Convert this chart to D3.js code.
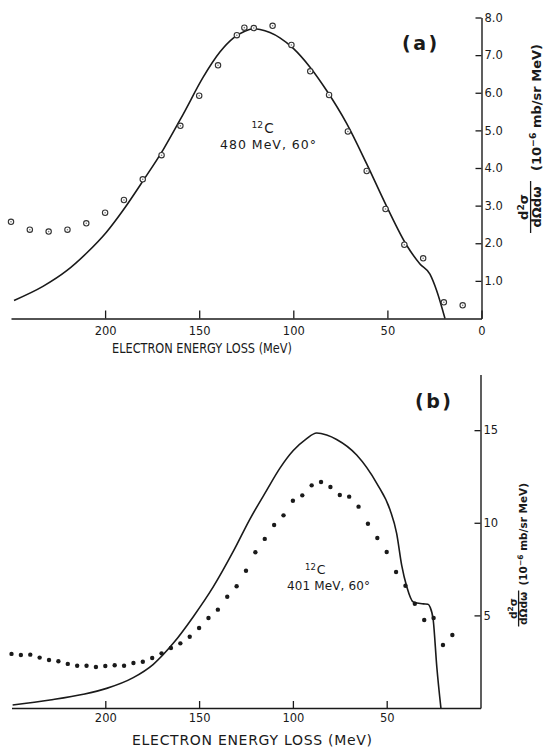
<!DOCTYPE html>
<html>
<head>
<meta charset="utf-8">
<script src="https://cdn.jsdelivr.net/npm/d3@7"></script>
<style>
  html, body { margin: 0; padding: 0; background: #fff; }
  svg { display: block; }
  text { font-family: "DejaVu Sans", "Liberation Sans", sans-serif; fill: #1a1a1a; }
</style>
</head>
<body>
<script>
// ---------- DATA ----------
// Panel (a): 12C, 480 MeV, 60 deg — open circles (experiment)
const aEnergy = [250, 240, 230, 220, 210, 200, 190, 180, 170, 160, 150, 140, 130, 126, 121, 111, 101, 91, 81, 71, 61, 51, 41, 31, 20, 10];
const aValue  = [2.57, 2.36, 2.31, 2.36, 2.53, 2.81, 3.15, 3.70, 4.34, 5.12, 5.92, 6.73, 7.53, 7.73, 7.72, 7.78, 7.27, 6.57, 5.94, 4.97, 3.92, 2.91, 1.96, 1.60, 0.43, 0.35];
// Panel (a): theory curve
const aCurveE = [248.4, 232.8, 220.4, 209.8, 199.2, 189.4, 179.7, 169.1, 158.4, 147.8, 139.0, 131.9, 125.5, 121.3, 117.7, 107.1, 100.0, 91.1, 82.3, 71.6, 61.0, 50.4, 39.7, 32.7, 27.4, 23.8, 19.4];
const aCurveV = [0.48, 0.86, 1.27, 1.74, 2.30, 2.95, 3.67, 4.49, 5.44, 6.42, 7.08, 7.45, 7.64, 7.70, 7.68, 7.46, 7.18, 6.68, 6.06, 5.18, 4.11, 2.98, 1.94, 1.45, 1.18, 0.74, 0.0];

// Panel (b): 12C, 401 MeV, 60 deg — filled dots (experiment)
const bEnergy = [250, 245, 240, 235, 230, 225, 220, 215, 210, 205, 200, 195, 190, 185, 180, 175, 170, 165, 160, 155, 150, 145, 140, 135, 130, 125, 120, 115, 110, 105, 100, 95, 90, 85, 80, 75, 70, 65, 60, 55, 50, 45, 40, 35, 30, 25, 20, 15];
const bValue  = [2.92, 2.86, 2.88, 2.72, 2.59, 2.52, 2.38, 2.28, 2.28, 2.21, 2.27, 2.31, 2.28, 2.43, 2.50, 2.70, 2.95, 3.24, 3.49, 3.85, 4.32, 4.86, 5.31, 6.01, 6.57, 7.41, 8.41, 9.13, 9.88, 10.4, 11.19, 11.48, 12.02, 12.2, 11.93, 11.5, 11.41, 10.87, 9.95, 9.18, 8.42, 7.34, 6.6, 5.63, 4.75, 4.86, 3.4, 3.94];
// Panel (b): theory curve
const bCurveE = [249.4, 229.5, 211.7, 199.3, 185.1, 174.4, 163.8, 153.1, 142.4, 131.8, 122.9, 114.0, 106.9, 99.8, 93.0, 87.3, 82.0, 76.7, 66.0, 55.3, 48.2, 44.7, 42.0, 39.3, 35.8, 30.5, 28.0, 26.9, 25.2, 23.3, 21.1];
const bCurveV = [0.16, 0.43, 0.74, 1.06, 1.64, 2.36, 3.49, 4.93, 6.55, 8.45, 10.2, 11.75, 12.95, 13.9, 14.52, 14.85, 14.74, 14.5, 13.66, 12.13, 10.69, 9.43, 7.70, 6.55, 5.72, 5.62, 5.60, 5.45, 4.75, 2.23, 0.0];

// Tick labels
const aXTicks = [200, 150, 100, 50, 0];
const aYTicks = [1, 2, 3, 4, 5, 6, 7, 8];
const bXTicks = [200, 150, 100, 50];
const bYTicks = [5, 10, 15];

// Text
const xTitleA = "ELECTRON ENERGY LOSS (MeV)";
const xTitleB = "ELECTRON ENERGY LOSS (MeV)";
const labelA = "(a)", labelB = "(b)";
const annotA = "480 MeV, 60°", annotB = "401 MeV, 60°";

// ---------- DRAW ----------
const svg = d3.select("body").append("svg").attr("width", 544).attr("height", 750);
const ink = "#1a1a1a";

function panel(opt) {
  const g = svg.append("g");
  const x = d3.scaleLinear().domain([250, 0]).range(opt.xRange);
  const y = d3.scaleLinear().domain(opt.yDomain).range(opt.yRange);

  // x axis (ticks point up, labels below)
  const xa = g.append("g").attr("transform", `translate(0,${opt.yRange[0]})`)
    .call(d3.axisBottom(x).tickValues(opt.xTicks).tickSizeInner(-opt.xTickLen).tickSizeOuter(0)
      .tickPadding(opt.xPad).tickFormat(d3.format("d")));
  xa.select(".domain").attr("stroke", ink).attr("stroke-width", 1.4);
  xa.selectAll(".tick line").attr("stroke", ink).attr("stroke-width", 1.3);
  xa.selectAll(".tick text").attr("font-size", opt.tickFont).attr("fill", ink).attr("font-family", null);

  // y axis on the right (ticks point left, labels right)
  const ya = g.append("g").attr("transform", `translate(${x(0)},0)`)
    .call(d3.axisRight(y).tickValues(opt.yTicks).tickSizeInner(-6).tickSizeOuter(0)
      .tickPadding(opt.yPad).tickFormat(d3.format(opt.yFmt)));
  ya.select(".domain").attr("stroke", ink).attr("stroke-width", 1.4);
  ya.selectAll(".tick line").attr("stroke", ink).attr("stroke-width", 1.3);
  ya.selectAll(".tick text").attr("font-size", opt.tickFont).attr("fill", ink).attr("font-family", null);

  // theory curve
  const line = d3.line().x(d => x(d[0])).y(d => y(d[1])).curve(d3.curveMonotoneX);
  g.append("path").datum(d3.zip(opt.cE, opt.cV))
    .attr("d", line).attr("fill", "none").attr("stroke", ink).attr("stroke-width", 1.6);

  // data points
  const pts = d3.zip(opt.pE, opt.pV);
  if (opt.open) {
    g.append("g").selectAll("circle").data(pts).join("circle")
      .attr("cx", d => x(d[0])).attr("cy", d => y(d[1])).attr("r", 2.7)
      .attr("fill", "#fff").attr("stroke", "#333").attr("stroke-width", 1.1);
    g.append("g").selectAll("circle").data(pts).join("circle")
      .attr("cx", d => x(d[0])).attr("cy", d => y(d[1])).attr("r", 0.8)
      .attr("fill", "#777");
  } else {
    g.append("g").selectAll("circle").data(pts).join("circle")
      .attr("cx", d => x(d[0])).attr("cy", d => y(d[1])).attr("r", 2.2)
      .attr("fill", ink);
  }
  return {g, x, y};
}

const A = panel({
  xRange: [11, 481.5], yDomain: [0, 8], yRange: [318.5, 17.5],
  xTicks: aXTicks, yTicks: aYTicks, xTickLen: 8, xPad: 8, yPad: 3, yFmt: ".1f", tickFont: 11.5,
  cE: aCurveE, cV: aCurveV, pE: aEnergy, pV: aValue, open: true
});
const B = panel({
  xRange: [11.5, 480.5], yDomain: [0, 18], yRange: [708, 374.6],
  xTicks: bXTicks, yTicks: bYTicks, xTickLen: 7, xPad: 6, yPad: 3, yFmt: "d", tickFont: 11.5,
  cE: bCurveE, cV: bCurveV, pE: bEnergy, pV: bValue, open: false
});

// x-axis titles
svg.append("text").attr("x", 112).attr("y", 353).attr("font-size", 14)
  .attr("textLength", 180).attr("lengthAdjust", "spacingAndGlyphs").text(xTitleA);
svg.append("text").attr("x", 132).attr("y", 745).attr("font-size", 14)
  .attr("textLength", 240).attr("lengthAdjust", "spacing").text(xTitleB);

// panel labels
svg.append("text").attr("x", 402).attr("y", 50).attr("font-size", 19).attr("font-weight", "bold")
  .attr("letter-spacing", 2.5).text(labelA);
svg.append("text").attr("x", 415).attr("y", 408).attr("font-size", 19).attr("font-weight", "bold")
  .attr("letter-spacing", 2.5).text(labelB);

// annotations
function nucl(x0, yb, fs) {
  const t = svg.append("text").attr("x", x0).attr("y", yb).attr("font-size", fs);
  t.append("tspan").attr("font-size", fs * 0.68).attr("dy", -fs * 0.35).text("12");
  t.append("tspan").attr("dy", fs * 0.35).attr("dx", 1).text("C");
}
nucl(251.5, 133, 13.5);
svg.append("text").attr("x", 220).attr("y", 149).attr("font-size", 12.5)
  .attr("textLength", 96).attr("lengthAdjust", "spacing").text(annotA);
nucl(305, 574, 12.5);
svg.append("text").attr("x", 287).attr("y", 590).attr("font-size", 12)
  .attr("textLength", 83).attr("lengthAdjust", "spacing").text(annotB);

// y-axis titles (rotated)
function yTitle(cx, cy, fs, halfFrac, unitStart) {
  const g = svg.append("g").attr("transform", `translate(${cx},${cy}) rotate(-90)`);
  const num = g.append("text").attr("x", 0).attr("y", -fs * 0.98).attr("text-anchor", "middle")
    .attr("font-size", fs).attr("font-weight", "bold");
  num.append("tspan").text("d");
  num.append("tspan").attr("font-size", fs * 0.7).attr("dy", -fs * 0.35).text("2");
  num.append("tspan").attr("dy", fs * 0.35).text("σ");
  g.append("line").attr("x1", -halfFrac).attr("x2", halfFrac)
    .attr("y1", -fs * 0.8).attr("y2", -fs * 0.8).attr("stroke", ink).attr("stroke-width", 1.3);
  g.append("text").attr("x", 0).attr("y", 0).attr("text-anchor", "middle").attr("font-size", fs)
    .attr("font-weight", "bold").text("dΩdω");
  const u = g.append("text").attr("x", unitStart).attr("y", 0).attr("font-size", fs).attr("font-weight", "bold");
  u.append("tspan").text("(10");
  u.append("tspan").attr("font-size", fs * 0.72).attr("dy", -fs * 0.42).text("−6");
  u.append("tspan").attr("dy", fs * 0.42).attr("xml:space", "preserve").text(" mb/sr MeV)");
}
yTitle(541, 207, 13, 26, 36);
yTitle(527, 608.5, 10.5, 18, 23);
</script>
</body>
</html>
